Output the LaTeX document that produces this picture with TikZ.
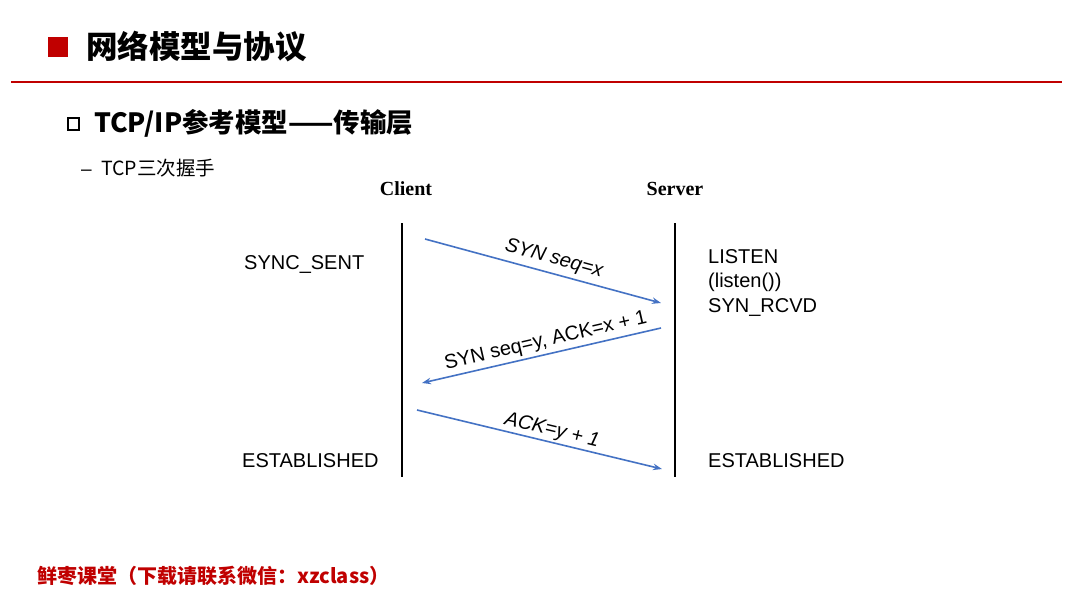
\documentclass[tikz,border=0pt]{standalone}
\usepackage{fontspec}
\setmainfont{Liberation Sans}
\newfontfamily\cjk{Noto Sans CJK SC}
\newfontfamily\timesfont{Liberation Serif}
\usetikzlibrary{arrows.meta,positioning}
\definecolor{pptred}{RGB}{192,0,0}
\definecolor{msgblue}{RGB}{68,114,196}

\begin{document}
\begin{tikzpicture}[x=1pt,y=-1pt,
  lifeline/.style={line width=2.4pt},
  msg/.style={-{Stealth[length=9pt,width=6.5pt]},msgblue,line width=1.6pt},
  msgtext/.style={sloped,above,text=black,inner sep=3pt,font=\fontsize{20}{24}\selectfont},
  state/.style={anchor=base west,inner sep=0pt,align=left,font=\fontsize{20}{24.5}\selectfont}]
  \fill[white] (0,0) rectangle (1080,608);
  \useasboundingbox (0,0) rectangle (1080,608);
  % heading
  \fill[pptred] (48,37) rectangle (68,57);
  \node[anchor=west,inner sep=0pt,font=\cjk\bfseries\fontsize{31.5}{36}\selectfont] (title) at (86,47) {网络模型与协议};
  \draw[pptred,line width=2pt] (11,82) -- (1062,82);
  \draw[line width=2pt] (68,117.5) rectangle (79,129.5);
  \node[anchor=west,inner sep=0pt,font=\cjk\bfseries\fontsize{26.5}{30}\selectfont] (layer) at (94,123) {TCP/IP参考模型——传输层};
  \node[anchor=base,inner sep=0pt,font=\fontsize{19}{22}\selectfont] (dash) at (86.5,175) {–};
  \node[anchor=west,inner sep=0pt,font=\cjk\fontsize{19.5}{22}\selectfont] (handshake) at (101,168) {TCP三次握手};
  % the two ends
  \node[anchor=base,inner sep=0pt,font=\timesfont\bfseries\fontsize{20}{24}\selectfont] (client) at (406,195) {Client};
  \node[anchor=base,inner sep=0pt,font=\timesfont\bfseries\fontsize{20}{24}\selectfont] (server) at (675,195) {Server};
  \coordinate (ctop) at (402,223);
  \coordinate (cbot) at (402,477);
  \coordinate (stop) at (675,223);
  \coordinate (sbot) at (675,477);
  \draw[lifeline] (ctop) -- (cbot);
  \draw[lifeline] (stop) -- (sbot);
  % states
  \node[state] (sent) at (244,269) {SYNC\_SENT};
  \node[state] (cest) at (242,467) {ESTABLISHED};
  \node[state] (listen) at (708,312) {LISTEN\\(listen())\\SYN\_RCVD};
  \node[state] (sest) at (708,467) {ESTABLISHED};
  % messages
  \coordinate (m1a) at (425,239);
  \coordinate (m1b) at (661,303);
  \coordinate (m2a) at (661,328);
  \coordinate (m2b) at (422,383);
  \coordinate (m3a) at (417,410);
  \coordinate (m3b) at (662,469);
  \draw[msg] (m1a) -- node[msgtext,pos=0.53,inner sep=4.5pt,font=\fontsize{20}{24}\selectfont\itshape] (syn) {SYN seq=x} (m1b);
  \draw[msg] (m2a) -- node[msgtext,pos=0.47] (synack) {SYN seq=y, ACK=x + 1} (m2b);
  \draw[msg] (m3a) -- node[msgtext,pos=0.54,inner sep=1.5pt,font=\fontsize{20}{24}\selectfont\itshape] (ack) {ACK=y + 1} (m3b);
  % footer
  \node[anchor=west,inner sep=0pt,text=pptred,font=\cjk\bfseries\fontsize{20}{24}\selectfont] (footer) at (37,576) {鲜枣课堂（下载请联系微信：xzclass）};
\end{tikzpicture}
\end{document}
